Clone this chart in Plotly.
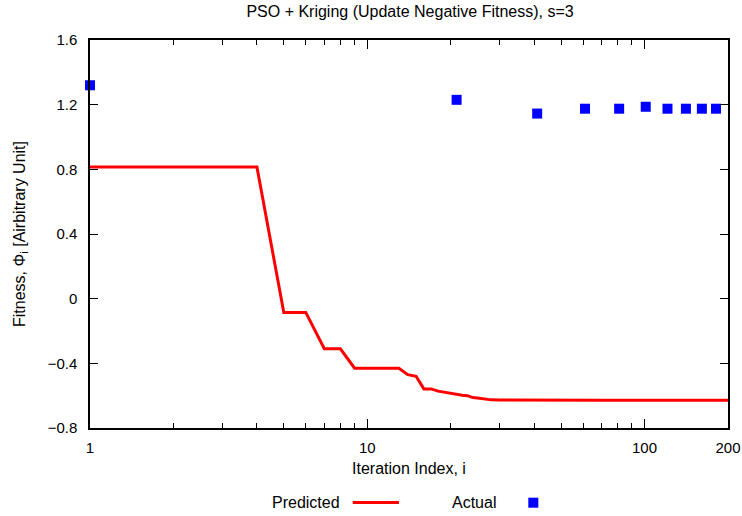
import plotly.graph_objects as go

# ---- data ----
pred_iter = [1, 2, 3, 4, 5, 6, 7, 8, 9, 10, 11, 12, 13, 14, 15, 16, 17, 18, 19, 20,
             21, 22, 23, 24, 25, 26, 27, 28, 30, 35, 40, 50, 70, 100, 150, 200]
pred_fit = [0.815, 0.815, 0.815, 0.815, -0.085, -0.085, -0.31, -0.31, -0.43, -0.43,
            -0.43, -0.43, -0.43, -0.47, -0.48, -0.558, -0.558, -0.572, -0.58, -0.587,
            -0.595, -0.598, -0.60, -0.612, -0.615, -0.62, -0.624, -0.626, -0.627, -0.628,
            -0.629, -0.629, -0.629, -0.629, -0.629, -0.629]

act_iter = [1, 21, 41, 61, 81, 101, 121, 141, 161, 181]
act_fit = [1.32, 1.23, 1.145, 1.175, 1.175, 1.187, 1.175, 1.175, 1.175, 1.175]

x_tickvals = [1, 10, 100, 200]
x_ticktext = ["1", "10", "100", "200"]
x_minor = [2, 3, 4, 5, 6, 7, 8, 9, 20, 30, 40, 50, 60, 70, 80, 90]

title_text = "PSO + Kriging (Update Negative Fitness), s=3"
x_title = "Iteration Index, i"
y_title = "Fitness, Φ<sub>i</sub> [Airbitrary Unit]"
legend_labels = ["Predicted", "Actual"]

FONT = "Liberation Sans, Arial, Helvetica, sans-serif"
RED = "#ff0000"
BLUE = "#0000ff"

fig = go.Figure()
fig.add_trace(go.Scatter(x=pred_iter, y=pred_fit, mode="lines",
                         line=dict(color=RED, width=3), name=legend_labels[0],
                         showlegend=False))
fig.add_trace(go.Scatter(x=act_iter, y=act_fit, mode="markers",
                         marker=dict(symbol="square", size=10, color=BLUE,
                                     line=dict(width=0)),
                         name=legend_labels[1], showlegend=False, cliponaxis=False))

fig.update_layout(
    width=742, height=516,
    margin=dict(l=90, r=14, t=40, b=88, autoexpand=False),
    paper_bgcolor="white", plot_bgcolor="white",
    font=dict(family=FONT, size=16, color="black"),
    title=dict(text=title_text, x=0.5526, xanchor="center", xref="container",
               y=0.977, yanchor="middle", yref="container",
               font=dict(family=FONT, size=16, color="black")),
    showlegend=False,
)

fig.update_xaxes(
    type="log", range=[0, 2.30103], automargin=False,
    tickmode="array", tickvals=x_tickvals, ticktext=x_ticktext,
    ticks="inside", ticklen=9, tickwidth=1, tickcolor="black",
    minor=dict(tickmode="array", tickvals=x_minor, ticks="inside", ticklen=5,
               tickwidth=1, tickcolor="black", showgrid=False),
    showline=True, linecolor="black", linewidth=1.5, mirror="ticks",
    showgrid=False, zeroline=False,
    tickfont=dict(family=FONT, size=15), ticklabelstandoff=5,
    title=dict(text=x_title, font=dict(family=FONT, size=16), standoff=8),
)
fig.update_yaxes(
    range=[-0.8, 1.6], tickmode="linear", tick0=-0.8, dtick=0.4, automargin=False,
    ticks="inside", ticklen=8, tickwidth=1, tickcolor="black",
    showline=True, linecolor="black", linewidth=1.5, mirror="ticks",
    showgrid=False, zeroline=False,
    tickfont=dict(family=FONT, size=15), ticklabelstandoff=8,
    title=dict(text=y_title, font=dict(family=FONT, size=16), standoff=18),
)

# custom gnuplot-style legend (text left of the sample)
LEG_Y = -0.192
fig.add_annotation(xref="paper", yref="paper", x=0.395, y=LEG_Y, xanchor="right",
                   yanchor="middle", text=legend_labels[0], showarrow=False,
                   font=dict(family=FONT, size=16))
fig.add_shape(type="line", xref="paper", yref="paper", x0=0.4118, x1=0.4843,
              y0=LEG_Y, y1=LEG_Y, line=dict(color=RED, width=3))
fig.add_annotation(xref="paper", yref="paper", x=0.6395, y=LEG_Y, xanchor="right",
                   yanchor="middle", text=legend_labels[1], showarrow=False,
                   font=dict(family=FONT, size=16))
fig.add_shape(type="rect", xref="paper", yref="paper", x0=0.687, x1=0.7027,
              y0=-0.2054, y1=-0.1796, line=dict(width=0), fillcolor=BLUE)

fig.write_html("out.html")
